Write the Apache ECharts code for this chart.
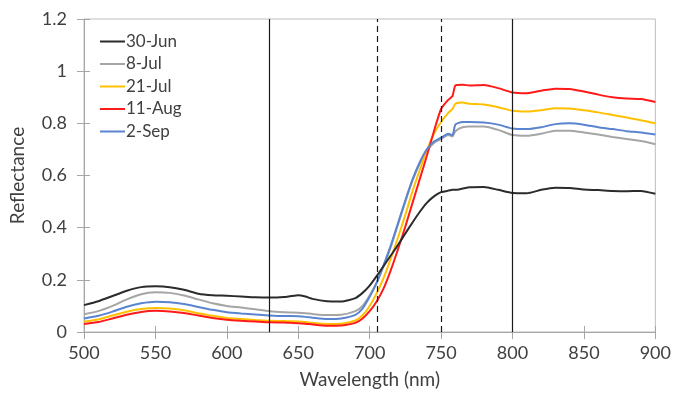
<!DOCTYPE html>
<html>
<head>
<meta charset="utf-8">
<script src="https://cdn.jsdelivr.net/npm/echarts@6/dist/echarts.min.js"></script>
<style>
  html, body { margin: 0; padding: 0; background: #fff; overflow: hidden; }
  #chart { width: 674px; height: 394px; }
</style>
</head>
<body>
<div id="chart"></div>
<script>
// wavelengths (nm)
const wavelengths = [500,510,520,530,540,550,560,570,580,590,600,610,620,630,640,645,650,655,660,670,680,690,695,700,705,710,715,720,725,730,735,740,745,750,755,758,760,765,770,780,790,800,810,820,830,840,850,860,870,880,890,900];

const jun30 = [0.103,0.118,0.138,0.158,0.172,0.175,0.172,0.162,0.147,0.141,0.139,0.136,0.133,0.132,0.134,0.138,0.141,0.136,0.127,0.118,0.117,0.13,0.15,0.178,0.215,0.255,0.295,0.335,0.378,0.42,0.46,0.495,0.52,0.536,0.542,0.545,0.545,0.55,0.555,0.556,0.545,0.533,0.532,0.545,0.553,0.552,0.546,0.544,0.541,0.54,0.541,0.53];
const jul8 = [0.068,0.08,0.1,0.125,0.145,0.152,0.15,0.14,0.125,0.11,0.1,0.094,0.087,0.08,0.076,0.075,0.074,0.072,0.069,0.065,0.066,0.08,0.1,0.14,0.19,0.255,0.33,0.415,0.5,0.58,0.645,0.695,0.725,0.74,0.755,0.75,0.77,0.785,0.788,0.788,0.775,0.755,0.752,0.76,0.772,0.772,0.765,0.757,0.748,0.74,0.732,0.72];
const jul21 = [0.04,0.048,0.063,0.078,0.088,0.092,0.09,0.083,0.072,0.062,0.054,0.05,0.046,0.043,0.042,0.041,0.04,0.038,0.035,0.031,0.032,0.044,0.064,0.1,0.15,0.21,0.285,0.365,0.45,0.54,0.62,0.695,0.76,0.805,0.84,0.855,0.875,0.88,0.875,0.872,0.862,0.848,0.845,0.85,0.858,0.857,0.85,0.842,0.832,0.822,0.812,0.8];
const aug11 = [0.031,0.038,0.052,0.066,0.077,0.081,0.079,0.073,0.063,0.054,0.047,0.043,0.04,0.037,0.036,0.035,0.034,0.032,0.029,0.024,0.025,0.035,0.052,0.08,0.118,0.17,0.24,0.32,0.405,0.495,0.585,0.675,0.77,0.855,0.89,0.905,0.945,0.948,0.945,0.947,0.935,0.918,0.915,0.925,0.933,0.932,0.922,0.91,0.9,0.895,0.893,0.882];
const sep2 = [0.052,0.062,0.078,0.097,0.11,0.116,0.114,0.107,0.096,0.085,0.076,0.071,0.067,0.063,0.061,0.061,0.06,0.058,0.055,0.05,0.052,0.066,0.09,0.135,0.19,0.26,0.335,0.42,0.505,0.585,0.65,0.7,0.73,0.745,0.76,0.755,0.795,0.805,0.805,0.803,0.795,0.78,0.778,0.785,0.797,0.8,0.795,0.785,0.778,0.77,0.765,0.757];

const seriesNames = ['30-Jun', '8-Jul', '21-Jul', '11-Aug', '2-Sep'];
const seriesValues = [jun30, jul8, jul21, aug11, sep2];
const seriesColors = ['#2b2b2b', '#a5a5a5', '#ffc000', '#ff1a1a', '#5b84d0'];

// vertical reference lines (nm)
const solidLines = [630, 800];
const dashedLines = [705, 750];

const font = 'Lato, "Open Sans", sans-serif';
const txt = '#404040';

const series = seriesNames.map((name, i) => ({
	name: name,
	type: 'line',
	showSymbol: false,
	symbol: 'none',
	smooth: 0.2,
	lineStyle: { width: 2, color: seriesColors[i] },
	itemStyle: { color: seriesColors[i] },
	data: wavelengths.map((w, j) => [w, seriesValues[i][j]]),
	z: 3 + (i === 0 ? 1 : 0)
}));

series.push({
	type: 'line',
	data: [],
	silent: true,
	markLine: {
		symbol: 'none',
		silent: true,
		animation: false,
		label: { show: false },
		data: solidLines.map(v => ({ xAxis: v, lineStyle: { type: 'solid', color: '#1a1a1a', width: 1.2 } }))
			.concat(dashedLines.map(v => ({ xAxis: v, lineStyle: { type: [6, 4], color: '#1a1a1a', width: 1.2 } })))
	}
});

const option = {
	animation: false,
	grid: { left: 82, right: 16, top: 19, bottom: 61, show: true, borderColor: '#bdbdbd', borderWidth: 1 },
	legend: {
		orient: 'vertical',
		left: 95,
		top: 28,
		itemWidth: 25,
		itemHeight: 2,
		itemGap: 5.5,
		icon: 'rect',
		data: seriesNames,
		textStyle: { fontFamily: font, fontSize: 17, color: txt, padding: [0, 0, 0, -4] }
	},
	xAxis: [{
		type: 'value',
		min: 500, max: 900, interval: 50,
		name: 'Wavelength (nm)',
		nameLocation: 'middle',
		nameGap: 38,
		nameTextStyle: { fontFamily: font, fontSize: 19, color: txt },
		axisLine: { lineStyle: { color: '#a6a6a6', width: 1 } },
		axisTick: { show: true, length: 7, lineStyle: { color: '#a6a6a6' } },
		axisLabel: { fontFamily: font, fontSize: 18, color: txt, margin: 12 },
		splitLine: { show: false }
	}, {
		type: 'value', position: 'bottom', gridIndex: 0,
		min: 500, max: 900, interval: 50,
		axisLine: { show: false },
		axisTick: { show: true, inside: true, length: 6, lineStyle: { color: '#a6a6a6' } },
		axisLabel: { show: false },
		splitLine: { show: false }
	}],
	yAxis: [{
		type: 'value',
		min: 0, max: 1.2, interval: 0.2,
		name: 'Reflectance',
		nameLocation: 'middle',
		nameGap: 57,
		nameTextStyle: { fontFamily: font, fontSize: 19, color: txt },
		axisLine: { show: true, lineStyle: { color: '#a6a6a6', width: 1 } },
		axisTick: { show: true, length: 7, lineStyle: { color: '#a6a6a6' } },
		axisLabel: { fontFamily: font, fontSize: 18, color: txt, margin: 17 },
		splitLine: { show: false }
	}, {
		type: 'value', position: 'left',
		min: 0, max: 1.2, interval: 0.2,
		axisLine: { show: false },
		axisTick: { show: true, inside: true, length: 6, lineStyle: { color: '#a6a6a6' } },
		axisLabel: { show: false },
		splitLine: { show: false }
	}],
	series: series
};

const chart = echarts.init(document.getElementById('chart'));
chart.setOption(option);
</script>
</body>
</html>
